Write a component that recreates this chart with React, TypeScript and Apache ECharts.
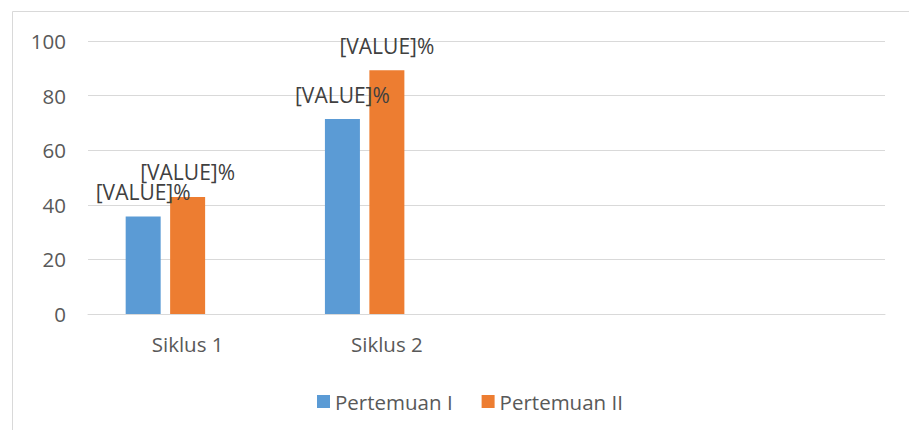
import React, { useEffect, useRef } from "react";
import * as echarts from "echarts";

const categories = ["Siklus 1", "Siklus 2", "", ""];
const pertemuanI = [35.7, 71.4, null, null];
const pertemuanII = [42.9, 89.3, null, null];
const hiddenSeries = [null, null, null, null];
const yTicks = { min: 0, max: 100, interval: 20 };
const labelText = "[VALUE]%";

export default function App() {
  const ref = useRef<HTMLDivElement>(null);
  useEffect(() => {
    if (!ref.current) return;
    const chart = echarts.init(ref.current, undefined, { renderer: "svg" });
    const font = "'Open Sans', sans-serif";
    const dataLabel = {
      show: true,
      position: "top",
      distance: 14,
      formatter: labelText,
      color: "#404040",
      fontSize: 21,
      fontFamily: font,
    };
    chart.setOption({
      animation: false,
      backgroundColor: "#ffffff",
      graphic: [
        {
          type: "rect",
          shape: { x: 12.5, y: 11.5, width: 1000, height: 1000 },
          style: { fill: "none", stroke: "#d9d9d9", lineWidth: 1 },
          silent: true,
        },
      ],
      grid: { left: 88, right: 24, top: 41, bottom: 116 },
      legend: {
        data: ["Pertemuan I", "Pertemuan II"],
        left: 312,
        top: 386,
        icon: "rect",
        itemWidth: 13,
        itemHeight: 13,
        itemGap: 29,
        textStyle: { color: "#595959", fontSize: 20.5, fontFamily: font },
      },
      xAxis: {
        type: "category",
        data: categories,
        axisLine: { show: true, lineStyle: { color: "#d9d9d9", width: 1 } },
        axisTick: { show: false },
        axisLabel: { color: "#595959", fontSize: 20.5, fontFamily: font, margin: 19 },
      },
      yAxis: {
        type: "value",
        min: yTicks.min,
        max: yTicks.max,
        interval: yTicks.interval,
        axisLine: { show: false },
        axisTick: { show: false },
        splitLine: { lineStyle: { color: "#d9d9d9", width: 1 } },
        axisLabel: { color: "#595959", fontSize: 20.5, fontFamily: font, margin: 22 },
      },
      series: [
        {
          name: "Pertemuan I",
          type: "bar",
          data: pertemuanI,
          barWidth: 35,
          barGap: "27%",
          itemStyle: { color: "#5B9BD5" },
          label: dataLabel,
        },
        {
          name: "Pertemuan II",
          type: "bar",
          data: pertemuanII,
          barWidth: 35,
          barGap: "27%",
          itemStyle: { color: "#ED7D31" },
          label: dataLabel,
        },
        {
          name: "hidden",
          type: "bar",
          data: hiddenSeries,
          barWidth: 35,
          barGap: "27%",
          itemStyle: { color: "#A5A5A5" },
        },
      ],
    });
    return () => chart.dispose();
  }, []);
  return (
    <div
      ref={ref}
      style={{ position: "fixed", left: 0, top: 0, width: 909, height: 430 }}
    />
  );
}
